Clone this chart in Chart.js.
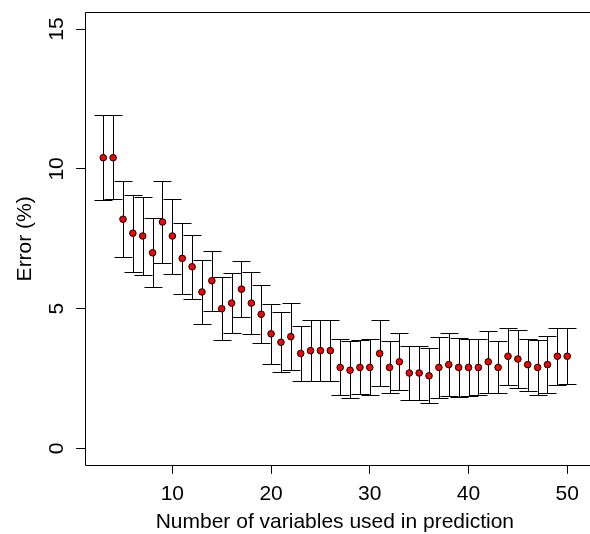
<!DOCTYPE html>
<html>
<head>
<meta charset="utf-8">
<script src="https://cdn.jsdelivr.net/npm/chart.js@4/dist/chart.umd.min.js"></script>
<style>
  html, body { margin: 0; padding: 0; overflow: hidden; background: #fff; }
  #wrap { width: 590px; height: 534px; overflow: hidden; }
</style>
</head>
<body>
<div id="wrap"><canvas id="c" width="590" height="534"></canvas></div>
<script>
const numVars = [3,4,5,6,7,8,9,10,11,12,13,14,15,16,17,18,19,20,21,22,23,24,25,26,
  27,28,29,30,31,32,33,34,35,36,37,38,39,40,41,42,43,44,45,46,47,48,49,50];
const errMean = [10.4,10.4,8.2,7.7,7.6,7.0,8.1,7.6,6.8,6.5,5.6,6.0,5.0,5.2,5.7,5.2,4.8,4.1,3.8,4.0,3.4,3.5,3.5,3.5,
  2.9,2.8,2.9,2.9,3.4,2.9,3.1,2.7,2.7,2.6,2.9,3.0,2.9,2.9,2.9,3.1,2.9,3.3,3.2,3.0,2.9,3.0,3.3,3.3];
const errUpper = [11.93,11.92,9.57,9.07,9.01,8.24,9.58,8.94,8.08,7.65,6.74,7.08,6.12,6.29,6.71,6.32,5.85,5.18,4.89,5.20,4.39,4.58,4.61,4.61,
  3.92,3.83,3.88,3.92,4.58,3.85,4.12,3.65,3.68,3.60,3.99,4.13,3.94,3.90,3.90,4.21,3.85,4.32,4.24,3.93,3.88,4.01,4.32,4.30];
const errLower = [8.89,8.92,6.85,6.32,6.19,5.79,6.62,6.25,5.54,5.33,4.46,4.93,3.89,4.12,4.69,4.10,3.76,3.02,2.74,2.81,2.43,2.43,2.43,2.40,
  1.90,1.80,1.94,1.90,2.25,1.98,2.10,1.74,1.75,1.62,1.82,1.87,1.86,1.89,1.90,1.98,1.98,2.27,2.17,2.07,1.92,1.99,2.27,2.29];
const xTicks = [10,20,30,40,50];
const yTicks = [0,5,10,15];
const xTitle = 'Number of variables used in prediction';
const yTitle = 'Error (%)';

const FONT = '"Liberation Sans", Arial, sans-serif';
const FSIZE = 21;

const errorBars = {
  id: 'errorBars',
  beforeDatasetsDraw(chart) {
    const ctx = chart.ctx, xs = chart.scales.x, ys = chart.scales.y;
    const cap = 9;
    ctx.save();
    ctx.strokeStyle = '#000';
    ctx.lineWidth = 1;
    for (let i = 0; i < numVars.length; i++) {
      const px = Math.round(xs.getPixelForValue(numVars[i])) + 0.5;
      const yu = Math.round(ys.getPixelForValue(errUpper[i])) + 0.5;
      const yl = Math.round(ys.getPixelForValue(errLower[i])) + 0.5;
      ctx.beginPath();
      ctx.moveTo(px, yu); ctx.lineTo(px, yl);
      ctx.moveTo(px - cap, yu); ctx.lineTo(px + cap, yu);
      ctx.moveTo(px - cap, yl); ctx.lineTo(px + cap, yl);
      ctx.stroke();
    }
    ctx.restore();
  },
  afterDraw(chart) {
    // plot frame (right edge falls just outside the picture, as in the original)
    const {left, top, bottom} = chart.chartArea;
    const ctx = chart.ctx;
    const L = Math.round(left) + 0.5, T = Math.round(top) + 0.5, B = Math.round(bottom) + 0.5;
    ctx.save();
    ctx.strokeStyle = '#000';
    ctx.lineWidth = 1;
    ctx.beginPath();
    ctx.moveTo(chart.width + 2, T); ctx.lineTo(L, T); ctx.lineTo(L, B); ctx.lineTo(chart.width + 2, B);
    ctx.stroke();
    ctx.restore();
  }
};

new Chart(document.getElementById('c'), {
  type: 'scatter',
  data: {
    datasets: [{
      data: numVars.map((v, i) => ({x: v, y: errMean[i]})),
      pointRadius: 3.3,
      pointBackgroundColor: '#ff0000',
      pointBorderColor: '#000',
      pointBorderWidth: 1,
      showLine: false
    }]
  },
  options: {
    responsive: false,
    animation: false,
    devicePixelRatio: 1,
    layout: { padding: { left: 0, top: 12.3, right: 0, bottom: 0 } },
    plugins: { legend: { display: false }, tooltip: { enabled: false } },
    scales: {
      x: {
        type: 'linear',
        min: 1.12, max: 51.8,
        afterBuildTicks: s => { s.ticks = xTicks.map(v => ({value: v})); },
        afterFit: s => { s.height = 68.7; s.paddingLeft = 0; s.paddingRight = 0; },
        grid: { drawOnChartArea: false, drawTicks: true, tickLength: 8.5, color: '#000', lineWidth: 1 },
        border: { display: false },
        ticks: { color: '#000', font: { family: FONT, size: FSIZE }, padding: 7.5, maxRotation: 0, autoSkip: false },
        title: { display: true, text: xTitle, color: '#000', font: { family: FONT, size: FSIZE }, padding: { top: 0, bottom: -1 } }
      },
      y: {
        type: 'linear',
        min: -0.6, max: 15.6,
        afterBuildTicks: s => { s.ticks = yTicks.map(v => ({value: v})); },
        afterFit: s => { s.width = 84.7; s.paddingTop = 0; s.paddingBottom = 0; },
        grid: { drawOnChartArea: false, drawTicks: true, tickLength: 8.5, color: '#000', lineWidth: 1 },
        border: { display: false },
        ticks: { color: '#000', font: { family: FONT, size: FSIZE }, padding: 7.5, minRotation: 90, maxRotation: 90, crossAlign: 'center', autoSkip: false },
        title: { display: true, text: yTitle, color: '#000', font: { family: FONT, size: FSIZE }, padding: { top: 12.4, bottom: 0 } }
      }
    }
  },
  plugins: [errorBars]
});
</script>
</body>
</html>
